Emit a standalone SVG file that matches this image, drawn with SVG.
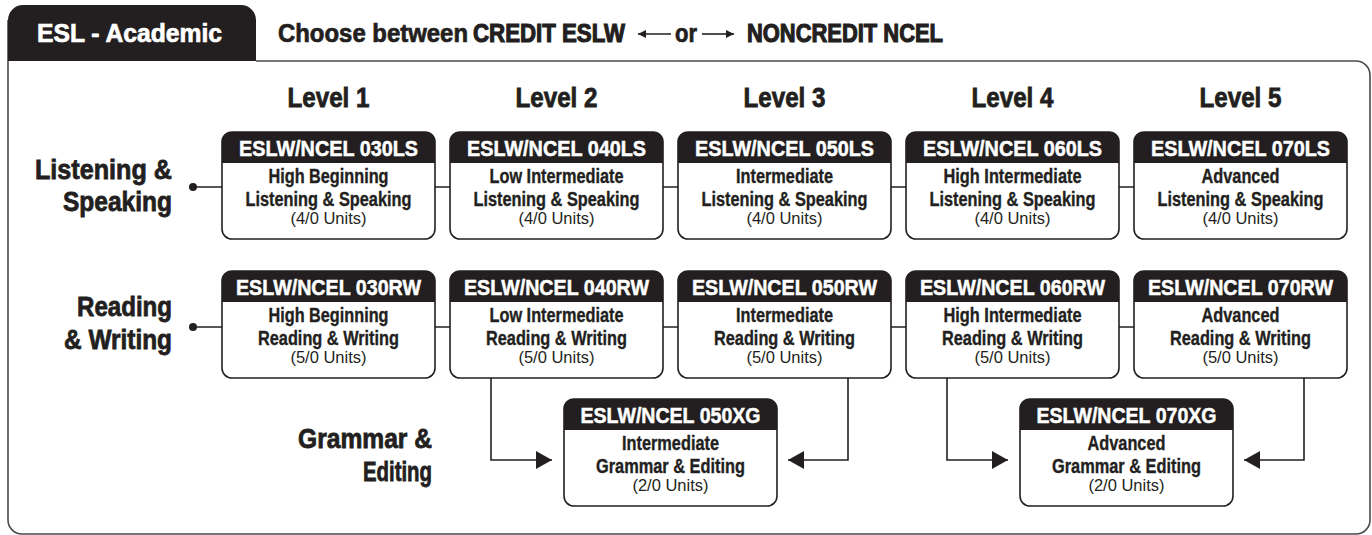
<svg xmlns="http://www.w3.org/2000/svg" width="1372" height="535" viewBox="0 0 1372 535">
<style>
text{font-family:"Liberation Sans",Arial,sans-serif;font-weight:bold;fill:#231f20}
.k{stroke:#231f20;stroke-width:0.7}
.t{font-size:28px;text-anchor:middle;stroke:#231f20;stroke-width:0.8}
.r{font-size:28px;text-anchor:end;stroke:#231f20;stroke-width:0.8}
.h{font-size:22px;fill:#fff;text-anchor:middle;stroke:#fff;stroke-width:0.5}
.b{font-size:19.5px;text-anchor:middle;stroke:#231f20;stroke-width:0.35}
.u{font-size:16.5px;font-weight:normal;text-anchor:middle}
.box{fill:#fff;stroke:#231f20;stroke-width:1.6}
.hd{fill:#231f20}
.frame{fill:none;stroke:#4a4a4a;stroke-width:1.6}
.c{fill:none;stroke:#231f20;stroke-width:1.6}
</style>
<defs>
<marker id="ah" markerUnits="userSpaceOnUse" viewBox="0 0 16 18" refX="16" refY="9" markerWidth="16" markerHeight="18" orient="auto"><path d="M0,0 L16,9 L0,18 Z" fill="#231f20"/></marker>
<marker id="sa" markerUnits="userSpaceOnUse" viewBox="0 0 8 8" refX="8" refY="4" markerWidth="8" markerHeight="8" orient="auto"><path d="M0,0 L8,4 L0,8 Z" fill="#231f20"/></marker>
</defs>
<rect width="1372" height="535" fill="#fff"/>
<g id="frame">
<path class="frame" d="M8,20 V520 A14,14 0 0 0 22,534 H1356 A14,14 0 0 0 1370,520 V75 A14,14 0 0 0 1356,61 H256"/>
<path d="M8,61 V20 A15,15 0 0 1 23,5 H241 A15,15 0 0 1 256,20 V61 Z" fill="#231f20"/>
<text x="37" y="42" font-size="26" style="fill:#fff;stroke:#fff;stroke-width:0.7" textLength="185" lengthAdjust="spacingAndGlyphs">ESL - Academic</text>
</g>
<g id="header">
<text class="k" x="278" y="42" font-size="25" textLength="190" lengthAdjust="spacingAndGlyphs">Choose between</text>
<text class="k" x="473" y="42" font-size="25" style="stroke-width:1.1" textLength="152" lengthAdjust="spacingAndGlyphs">CREDIT ESLW</text>
<path class="c" d="M671,34 H638" marker-end="url(#sa)"/>
<text class="k" x="675" y="42" font-size="25" textLength="22" lengthAdjust="spacingAndGlyphs">or</text>
<path class="c" d="M702,34 H734" marker-end="url(#sa)"/>
<text class="k" x="747" y="42" font-size="25" style="stroke-width:1.1" textLength="196" lengthAdjust="spacingAndGlyphs">NONCREDIT NCEL</text>
</g>
<g id="levels">
<text class="t" x="328.5" y="107" textLength="82" lengthAdjust="spacingAndGlyphs">Level 1</text>
<text class="t" x="556.5" y="107" textLength="82" lengthAdjust="spacingAndGlyphs">Level 2</text>
<text class="t" x="784.5" y="107" textLength="82" lengthAdjust="spacingAndGlyphs">Level 3</text>
<text class="t" x="1012.5" y="107" textLength="82" lengthAdjust="spacingAndGlyphs">Level 4</text>
<text class="t" x="1240.5" y="107" textLength="82" lengthAdjust="spacingAndGlyphs">Level 5</text>
</g>
<g id="row-labels">
<text class="r" x="172" y="179" textLength="137" lengthAdjust="spacingAndGlyphs">Listening &amp;</text>
<text class="r" x="172" y="211" textLength="109" lengthAdjust="spacingAndGlyphs">Speaking</text>
<text class="r" x="172" y="316" textLength="95" lengthAdjust="spacingAndGlyphs">Reading</text>
<text class="r" x="172" y="349" textLength="108" lengthAdjust="spacingAndGlyphs">&amp; Writing</text>
<text class="r" x="432" y="448" textLength="134" lengthAdjust="spacingAndGlyphs">Grammar &amp;</text>
<text class="r" x="432" y="481" textLength="69" lengthAdjust="spacingAndGlyphs">Editing</text>
</g>
<g id="connectors">
<circle cx="193" cy="187" r="4" fill="#231f20"/>
<circle cx="193" cy="327" r="4" fill="#231f20"/>
<path class="c" d="M193,187 H222 M435,187 H450 M663,187 H678 M891,187 H906 M1119,187 H1134"/>
<path class="c" d="M193,327 H222 M435,327 H450 M663,327 H678 M891,327 H906 M1119,327 H1134"/>
<path class="c" d="M491,378 V460 H552" marker-end="url(#ah)"/>
<path class="c" d="M848,378 V460 H788" marker-end="url(#ah)"/>
<path class="c" d="M947,378 V460 H1008" marker-end="url(#ah)"/>
<path class="c" d="M1304,378 V460 H1244" marker-end="url(#ah)"/>
</g>
<g id="n030LS">
<rect class="box" x="222" y="132" width="213" height="107" rx="10"/>
<path class="hd" d="M222,163 V142 A10,10 0 0 1 232,132 H425 A10,10 0 0 1 435,142 V163 Z"/>
<text class="h" x="328.5" y="156" textLength="179" lengthAdjust="spacingAndGlyphs">ESLW/NCEL 030LS</text>
<text class="b" x="328.5" y="183" textLength="120" lengthAdjust="spacingAndGlyphs">High Beginning</text>
<text class="b" x="328.5" y="206" textLength="166" lengthAdjust="spacingAndGlyphs">Listening &amp; Speaking</text>
<text class="u" x="328.5" y="224">(4/0 Units)</text>
</g>
<g id="n040LS">
<rect class="box" x="450" y="132" width="213" height="107" rx="10"/>
<path class="hd" d="M450,163 V142 A10,10 0 0 1 460,132 H653 A10,10 0 0 1 663,142 V163 Z"/>
<text class="h" x="556.5" y="156" textLength="179" lengthAdjust="spacingAndGlyphs">ESLW/NCEL 040LS</text>
<text class="b" x="556.5" y="183" textLength="134" lengthAdjust="spacingAndGlyphs">Low Intermediate</text>
<text class="b" x="556.5" y="206" textLength="166" lengthAdjust="spacingAndGlyphs">Listening &amp; Speaking</text>
<text class="u" x="556.5" y="224">(4/0 Units)</text>
</g>
<g id="n050LS">
<rect class="box" x="678" y="132" width="213" height="107" rx="10"/>
<path class="hd" d="M678,163 V142 A10,10 0 0 1 688,132 H881 A10,10 0 0 1 891,142 V163 Z"/>
<text class="h" x="784.5" y="156" textLength="179" lengthAdjust="spacingAndGlyphs">ESLW/NCEL 050LS</text>
<text class="b" x="784.5" y="183" textLength="97" lengthAdjust="spacingAndGlyphs">Intermediate</text>
<text class="b" x="784.5" y="206" textLength="166" lengthAdjust="spacingAndGlyphs">Listening &amp; Speaking</text>
<text class="u" x="784.5" y="224">(4/0 Units)</text>
</g>
<g id="n060LS">
<rect class="box" x="906" y="132" width="213" height="107" rx="10"/>
<path class="hd" d="M906,163 V142 A10,10 0 0 1 916,132 H1109 A10,10 0 0 1 1119,142 V163 Z"/>
<text class="h" x="1012.5" y="156" textLength="179" lengthAdjust="spacingAndGlyphs">ESLW/NCEL 060LS</text>
<text class="b" x="1012.5" y="183" textLength="138" lengthAdjust="spacingAndGlyphs">High Intermediate</text>
<text class="b" x="1012.5" y="206" textLength="166" lengthAdjust="spacingAndGlyphs">Listening &amp; Speaking</text>
<text class="u" x="1012.5" y="224">(4/0 Units)</text>
</g>
<g id="n070LS">
<rect class="box" x="1134" y="132" width="213" height="107" rx="10"/>
<path class="hd" d="M1134,163 V142 A10,10 0 0 1 1144,132 H1337 A10,10 0 0 1 1347,142 V163 Z"/>
<text class="h" x="1240.5" y="156" textLength="179" lengthAdjust="spacingAndGlyphs">ESLW/NCEL 070LS</text>
<text class="b" x="1240.5" y="183" textLength="78" lengthAdjust="spacingAndGlyphs">Advanced</text>
<text class="b" x="1240.5" y="206" textLength="166" lengthAdjust="spacingAndGlyphs">Listening &amp; Speaking</text>
<text class="u" x="1240.5" y="224">(4/0 Units)</text>
</g>
<g id="n030RW">
<rect class="box" x="222" y="271" width="213" height="107" rx="10"/>
<path class="hd" d="M222,302 V281 A10,10 0 0 1 232,271 H425 A10,10 0 0 1 435,281 V302 Z"/>
<text class="h" x="328.5" y="295" textLength="185" lengthAdjust="spacingAndGlyphs">ESLW/NCEL 030RW</text>
<text class="b" x="328.5" y="322" textLength="120" lengthAdjust="spacingAndGlyphs">High Beginning</text>
<text class="b" x="328.5" y="345" textLength="141" lengthAdjust="spacingAndGlyphs">Reading &amp; Writing</text>
<text class="u" x="328.5" y="363">(5/0 Units)</text>
</g>
<g id="n040RW">
<rect class="box" x="450" y="271" width="213" height="107" rx="10"/>
<path class="hd" d="M450,302 V281 A10,10 0 0 1 460,271 H653 A10,10 0 0 1 663,281 V302 Z"/>
<text class="h" x="556.5" y="295" textLength="185" lengthAdjust="spacingAndGlyphs">ESLW/NCEL 040RW</text>
<text class="b" x="556.5" y="322" textLength="134" lengthAdjust="spacingAndGlyphs">Low Intermediate</text>
<text class="b" x="556.5" y="345" textLength="141" lengthAdjust="spacingAndGlyphs">Reading &amp; Writing</text>
<text class="u" x="556.5" y="363">(5/0 Units)</text>
</g>
<g id="n050RW">
<rect class="box" x="678" y="271" width="213" height="107" rx="10"/>
<path class="hd" d="M678,302 V281 A10,10 0 0 1 688,271 H881 A10,10 0 0 1 891,281 V302 Z"/>
<text class="h" x="784.5" y="295" textLength="185" lengthAdjust="spacingAndGlyphs">ESLW/NCEL 050RW</text>
<text class="b" x="784.5" y="322" textLength="97" lengthAdjust="spacingAndGlyphs">Intermediate</text>
<text class="b" x="784.5" y="345" textLength="141" lengthAdjust="spacingAndGlyphs">Reading &amp; Writing</text>
<text class="u" x="784.5" y="363">(5/0 Units)</text>
</g>
<g id="n060RW">
<rect class="box" x="906" y="271" width="213" height="107" rx="10"/>
<path class="hd" d="M906,302 V281 A10,10 0 0 1 916,271 H1109 A10,10 0 0 1 1119,281 V302 Z"/>
<text class="h" x="1012.5" y="295" textLength="185" lengthAdjust="spacingAndGlyphs">ESLW/NCEL 060RW</text>
<text class="b" x="1012.5" y="322" textLength="138" lengthAdjust="spacingAndGlyphs">High Intermediate</text>
<text class="b" x="1012.5" y="345" textLength="141" lengthAdjust="spacingAndGlyphs">Reading &amp; Writing</text>
<text class="u" x="1012.5" y="363">(5/0 Units)</text>
</g>
<g id="n070RW">
<rect class="box" x="1134" y="271" width="213" height="107" rx="10"/>
<path class="hd" d="M1134,302 V281 A10,10 0 0 1 1144,271 H1337 A10,10 0 0 1 1347,281 V302 Z"/>
<text class="h" x="1240.5" y="295" textLength="185" lengthAdjust="spacingAndGlyphs">ESLW/NCEL 070RW</text>
<text class="b" x="1240.5" y="322" textLength="78" lengthAdjust="spacingAndGlyphs">Advanced</text>
<text class="b" x="1240.5" y="345" textLength="141" lengthAdjust="spacingAndGlyphs">Reading &amp; Writing</text>
<text class="u" x="1240.5" y="363">(5/0 Units)</text>
</g>
<g id="n050XG">
<rect class="box" x="564" y="399" width="213" height="107" rx="10"/>
<path class="hd" d="M564,430 V409 A10,10 0 0 1 574,399 H767 A10,10 0 0 1 777,409 V430 Z"/>
<text class="h" x="670.5" y="423" textLength="180" lengthAdjust="spacingAndGlyphs">ESLW/NCEL 050XG</text>
<text class="b" x="670.5" y="450" textLength="97" lengthAdjust="spacingAndGlyphs">Intermediate</text>
<text class="b" x="670.5" y="473" textLength="149" lengthAdjust="spacingAndGlyphs">Grammar &amp; Editing</text>
<text class="u" x="670.5" y="491">(2/0 Units)</text>
</g>
<g id="n070XG">
<rect class="box" x="1020" y="399" width="213" height="107" rx="10"/>
<path class="hd" d="M1020,430 V409 A10,10 0 0 1 1030,399 H1223 A10,10 0 0 1 1233,409 V430 Z"/>
<text class="h" x="1126.5" y="423" textLength="180" lengthAdjust="spacingAndGlyphs">ESLW/NCEL 070XG</text>
<text class="b" x="1126.5" y="450" textLength="78" lengthAdjust="spacingAndGlyphs">Advanced</text>
<text class="b" x="1126.5" y="473" textLength="149" lengthAdjust="spacingAndGlyphs">Grammar &amp; Editing</text>
<text class="u" x="1126.5" y="491">(2/0 Units)</text>
</g>
</svg>
